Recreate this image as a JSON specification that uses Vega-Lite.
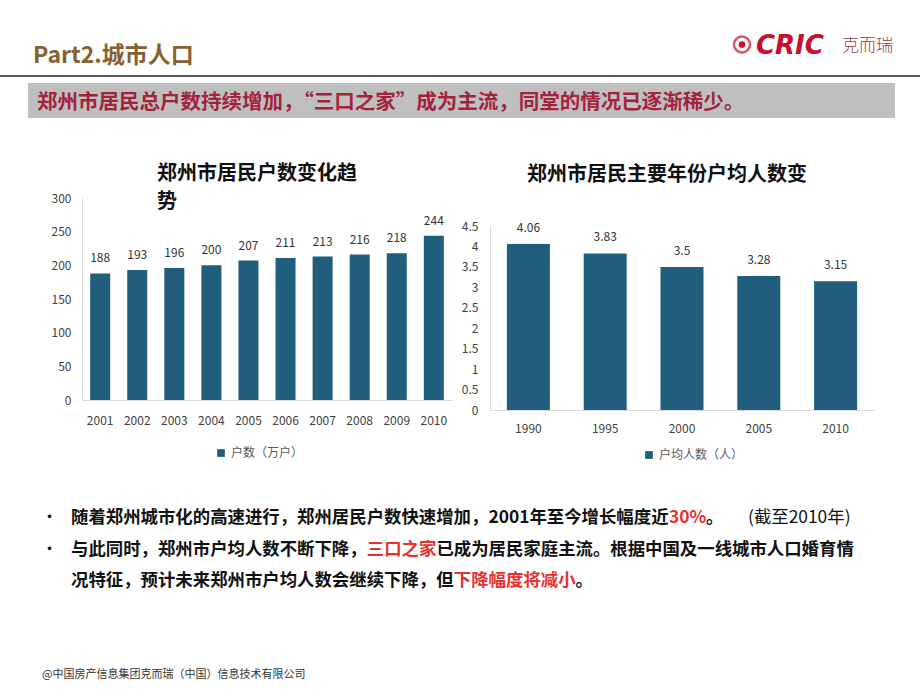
{
  "$schema": "https://vega.github.io/schema/vega-lite/v6.json",
  "padding": 0,
  "spacing": 0,
  "background": "white",
  "config": {
    "view": {"stroke": null},
    "font": "Noto Sans CJK SC",
    "title": {"font": "Noto Sans CJK SC"},
    "axis": {"labelFont": "Noto Sans CJK SC", "titleFont": "Noto Sans CJK SC"},
    "legend": {"labelFont": "Noto Sans CJK SC"}
  },
  "vconcat": [
    {
      "width": 920,
      "height": 163,
      "layer": [
        {
          "data": {"values": [{"t": "Part2.城市人口"}]},
          "mark": {"type": "text", "align": "left", "baseline": "middle", "x": 33, "y": 55.5, "fontSize": 23, "fontWeight": "bold", "color": "#86612f"},
          "encoding": {"text": {"field": "t"}}
        },
        {
          "data": {"values": [{"k": "ring"}]},
          "mark": {"type": "point", "shape": "circle", "x": 742, "y": 44.5, "size": 260, "filled": false, "stroke": "#c8102e", "strokeWidth": 2.5},
          "encoding": {}
        },
        {
          "data": {"values": [{"k": "dot"}]},
          "mark": {"type": "point", "shape": "circle", "x": 742, "y": 44.5, "size": 45, "filled": true, "color": "#c8102e", "opacity": 1},
          "encoding": {}
        },
        {
          "data": {"values": [{"t": "CRIC"}]},
          "mark": {"type": "text", "align": "left", "baseline": "middle", "x": 756, "y": 46, "fontSize": 26, "font": "DejaVu Sans", "fontWeight": "bold", "fontStyle": "italic", "color": "#c8102e"},
          "encoding": {"text": {"field": "t"}}
        },
        {
          "data": {"values": [{"t": "克而瑞"}]},
          "mark": {"type": "text", "align": "left", "baseline": "middle", "x": 842, "y": 46, "fontSize": 17, "fontWeight": 300, "color": "#9a3a48"},
          "encoding": {"text": {"field": "t"}}
        },
        {
          "data": {"values": [{"k": "line"}]},
          "mark": {"type": "rect", "x": 0, "x2": 920, "y": 75.3, "y2": 76.8, "color": "#222222"},
          "encoding": {}
        },
        {
          "data": {"values": [{"k": "band"}]},
          "mark": {"type": "rect", "x": 28, "x2": 895, "y": 83, "y2": 118, "color": "#bfbfbf"},
          "encoding": {}
        },
        {
          "data": {"values": [{"t": "郑州市居民总户数持续增加，“三口之家”成为主流，同堂的情况已逐渐稀少。"}]},
          "mark": {"type": "text", "align": "left", "baseline": "middle", "x": 37, "y": 103, "fontSize": 20.5, "fontWeight": "bold", "color": "#a3233a"},
          "encoding": {"text": {"field": "t"}}
        }
      ]
    },
    {
      "spacing": 0,
      "resolve": {"scale": {"color": "independent"}},
      "hconcat": [
        {"width": 1, "height": 1, "data": {"values": []}, "mark": "point"},
        {
          "spacing": 0,
          "vconcat": [
            {"width": 1, "height": 1, "data": {"values": []}, "mark": "point"},
            {
              "width": 370,
              "height": 202,
              "title": {"text": ["郑州市居民户数变化趋", "势"], "anchor": "start", "frame": "group", "dx": 75, "offset": -20, "fontSize": 20, "fontWeight": "bold", "color": "#111111", "lineHeight": 28},
              "data": {"values": [
                {"year": "2001", "households": 188},
                {"year": "2002", "households": 193},
                {"year": "2003", "households": 196},
                {"year": "2004", "households": 200},
                {"year": "2005", "households": 207},
                {"year": "2006", "households": 211},
                {"year": "2007", "households": 213},
                {"year": "2008", "households": 216},
                {"year": "2009", "households": 218},
                {"year": "2010", "households": 244}
              ]},
              "encoding": {
                "x": {"field": "year", "type": "ordinal", "scale": {"paddingInner": 0.46, "paddingOuter": 0.22},
                  "axis": {"title": null, "labelAngle": 0, "ticks": false, "domainColor": "#d9d9d9", "labelFontSize": 12, "labelColor": "#404040", "labelPadding": 15}},
                "y": {"field": "households", "type": "quantitative", "scale": {"domain": [0, 300]},
                  "axis": {"title": null, "values": [0, 50, 100, 150, 200, 250, 300], "grid": false, "ticks": false, "domainColor": "#d9d9d9", "labelFontSize": 12, "labelColor": "#404040", "labelPadding": 11, "minExtent": 81}}
              },
              "layer": [
                {
                  "mark": {"type": "bar"},
                  "encoding": {"color": {"datum": "户数（万户）", "type": "nominal", "scale": {"range": ["#215e7e"]},
                    "legend": {"title": null, "orient": "none", "legendX": 133, "legendY": 284, "symbolType": "square", "symbolSize": 60, "labelFontSize": 12, "labelColor": "#595959"}}}
                },
                {
                  "mark": {"type": "text", "baseline": "bottom", "dy": -8, "fontSize": 12, "color": "#333333"},
                  "encoding": {"text": {"field": "households", "type": "quantitative", "format": "~g"}}
                }
              ]
            }
          ]
        },
        {
          "spacing": 0,
          "vconcat": [
            {"width": 1, "height": 1, "data": {"values": []}, "mark": "point"},
            {
              "width": 384,
              "height": 184,
              "title": {"text": "郑州市居民主要年份户均人数变", "anchor": "start", "frame": "group", "dx": 37, "offset": 35.5, "fontSize": 20, "fontWeight": "bold", "color": "#111111"},
              "data": {"values": [
                {"year": "1990", "persons": 4.06},
                {"year": "1995", "persons": 3.83},
                {"year": "2000", "persons": 3.5},
                {"year": "2005", "persons": 3.28},
                {"year": "2010", "persons": 3.15}
              ]},
              "encoding": {
                "x": {"field": "year", "type": "ordinal", "scale": {"paddingInner": 0.44, "paddingOuter": 0.22},
                  "axis": {"title": null, "labelAngle": 0, "ticks": false, "domainColor": "#d9d9d9", "labelFontSize": 12, "labelColor": "#404040", "labelPadding": 13}},
                "y": {"field": "persons", "type": "quantitative", "scale": {"domain": [0, 4.5]},
                  "axis": {"title": null, "values": [0, 0.5, 1, 1.5, 2, 2.5, 3, 3.5, 4, 4.5], "format": "~g", "grid": false, "ticks": false, "domainColor": "#d9d9d9", "labelFontSize": 12, "labelColor": "#404040", "labelPadding": 12, "minExtent": 38}}
              },
              "layer": [
                {
                  "mark": {"type": "bar"},
                  "encoding": {"color": {"datum": "户均人数（人）", "type": "nominal", "scale": {"range": ["#215e7e"]},
                    "legend": {"title": null, "orient": "none", "legendX": 153, "legendY": 286, "symbolType": "square", "symbolSize": 60, "labelFontSize": 12, "labelColor": "#595959"}}}
                },
                {
                  "mark": {"type": "text", "baseline": "bottom", "dy": -9, "fontSize": 12, "color": "#333333"},
                  "encoding": {"text": {"field": "persons", "type": "quantitative", "format": "~g"}}
                }
              ]
            }
          ]
        }
      ]
    },
    {
      "width": 920,
      "height": 230,
      "data": {"values": [
        {"line": 1, "seg": "a", "t": "随着郑州城市化的高速进行，郑州居民户数快速增加，2001年至今增长幅度近"},
        {"line": 1, "seg": "b", "t": "30%"},
        {"line": 1, "seg": "c", "t": "。"},
        {"line": 1, "seg": "d", "t": "(截至2010年)"},
        {"line": 2, "seg": "a", "t": "与此同时，郑州市户均人数不断下降，"},
        {"line": 2, "seg": "b", "t": "三口之家"},
        {"line": 2, "seg": "c", "t": "已成为居民家庭主流。根据中国及一线城市人口婚育情"},
        {"line": 3, "seg": "a", "t": "况特征，预计未来郑州市户均人数会继续下降，但"},
        {"line": 3, "seg": "b", "t": "下降幅度将减小"},
        {"line": 3, "seg": "c", "t": "。"}
      ]},
      "encoding": {
        "y": {"field": "line", "type": "ordinal", "scale": {"type": "point", "domain": [1, 2, 3], "range": [57, 120], "padding": 0}, "axis": null},
        "text": {"field": "t"}
      },
      "layer": [
        {
          "transform": [{"filter": "datum.seg == 'a' && datum.line < 3"}],
          "mark": {"type": "text", "align": "left", "baseline": "middle", "x": 41, "fontSize": 17, "color": "#111111"},
          "encoding": {"text": {"value": "•"}}
        },
        {
          "transform": [{"filter": "datum.seg == 'a'"}],
          "mark": {"type": "text", "align": "left", "baseline": "middle", "x": 71, "fontSize": 17.4, "fontWeight": "bold", "color": "#111111"}
        },
        {
          "transform": [{"filter": "datum.line == 1 && datum.seg == 'b'"}],
          "mark": {"type": "text", "align": "left", "baseline": "middle", "x": 669, "fontSize": 17.4, "fontWeight": "bold", "color": "#e8312f"}
        },
        {
          "transform": [{"filter": "datum.line == 1 && datum.seg == 'c'"}],
          "mark": {"type": "text", "align": "left", "baseline": "middle", "x": 706, "fontSize": 17.4, "fontWeight": "bold", "color": "#111111"}
        },
        {
          "transform": [{"filter": "datum.line == 1 && datum.seg == 'd'"}],
          "mark": {"type": "text", "align": "left", "baseline": "middle", "x": 748, "fontSize": 17.4, "color": "#111111"}
        },
        {
          "transform": [{"filter": "datum.line == 2 && datum.seg == 'b'"}],
          "mark": {"type": "text", "align": "left", "baseline": "middle", "x": 366.8, "fontSize": 17.4, "fontWeight": "bold", "color": "#e8312f"}
        },
        {
          "transform": [{"filter": "datum.line == 2 && datum.seg == 'c'"}],
          "mark": {"type": "text", "align": "left", "baseline": "middle", "x": 436.4, "fontSize": 17.4, "fontWeight": "bold", "color": "#111111"}
        },
        {
          "transform": [{"filter": "datum.line == 3 && datum.seg == 'b'"}],
          "mark": {"type": "text", "align": "left", "baseline": "middle", "x": 453.8, "fontSize": 17.4, "fontWeight": "bold", "color": "#e8312f"}
        },
        {
          "transform": [{"filter": "datum.line == 3 && datum.seg == 'c'"}],
          "mark": {"type": "text", "align": "left", "baseline": "middle", "x": 575.6, "fontSize": 17.4, "fontWeight": "bold", "color": "#111111"}
        },
        {
          "data": {"values": [{"t": "@中国房产信息集团克而瑞（中国）信息技术有限公司"}]},
          "mark": {"type": "text", "align": "left", "baseline": "middle", "x": 42, "fontSize": 11, "color": "#333333"},
          "encoding": {"text": {"field": "t"}, "y": {"value": 214}}
        }
      ]
    }
  ]
}
